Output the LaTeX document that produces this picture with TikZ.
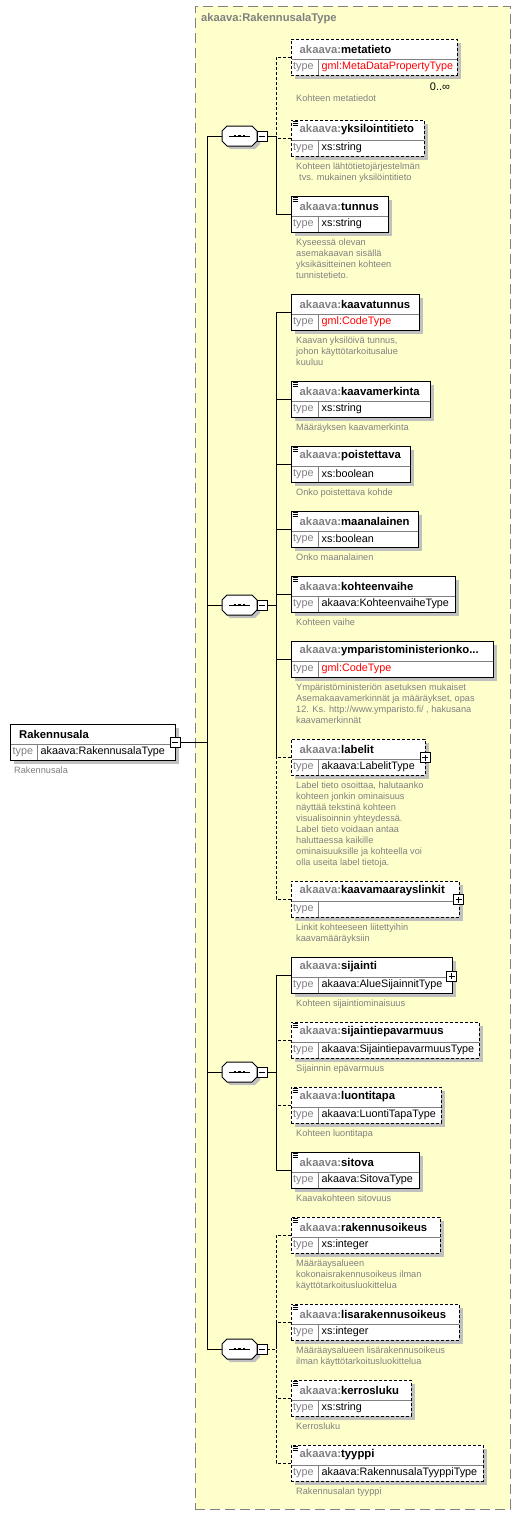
\documentclass[tikz,border=0pt]{standalone}
\usepackage{fontspec}
\setmainfont{Liberation Sans}
\definecolor{bgy}{HTML}{FFFFCC}
\definecolor{shd}{HTML}{C0C0C0}
\definecolor{gr}{HTML}{808080}
\definecolor{gmlred}{HTML}{FF0000}
\tikzset{
  ln/.style={line width=1pt},
  dl/.style={line width=1pt, dash pattern=on 3pt off 2pt},
  reqbox/.style={draw=black, line width=1pt, fill=white},
  optbox/.style={draw=black, line width=1pt, fill=white, dash pattern=on 3pt off 2pt},
  boxbase/.style={rectangle, inner sep=0pt, outer sep=0pt, minimum height=36pt, anchor=north west},
  divline/.style={draw=gr, line width=0.8pt},
  typelbl/.style={anchor=west, inner sep=0pt, text=gr, font=\fontsize{10.8}{13}\selectfont},
  typeval/.style={anchor=west, inner sep=0pt, text=black, font=\fontsize{10.8}{13}\selectfont},
  namelbl/.style={anchor=west, inner sep=0pt, font=\fontsize{11.3}{13}\bfseries\selectfont},
  desc/.style={anchor=north west, inner sep=0pt, text=gr, align=left, font=\fontsize{9.2}{11}\selectfont},
  pmbox/.style={draw=black, line width=0.8pt, fill=white, minimum size=10pt, inner sep=0pt, outer sep=0pt},
  seqn/.style={rectangle, minimum width=35pt, minimum height=20pt, inner sep=0pt, outer sep=0pt},
}
% element box: id, mid y, right x, name, type, box style, icon(1/0), description
\newcommand\elem[8]{%
  \pgfmathsetmacro\et{#2-18}%
  \pgfmathsetmacro\ew{#3-291}%
  \fill[shd] (295,\et+4) rectangle (#3+4,\et+40);
  \node[boxbase,#6,minimum width=\ew pt] (#1) at (291,\et) {};
  \draw[divline] ([xshift=0.5pt,yshift=-20pt]#1.north west) -- ([xshift=-0.5pt,yshift=-20pt]#1.north east);
  \draw[divline] ([xshift=27pt,yshift=-20pt]#1.north west) -- ([xshift=27pt,yshift=0.5pt]#1.south west);
  \node[typelbl] at ([xshift=2pt,yshift=-28pt]#1.north west) {type};
  \node[typeval] at ([xshift=30.5pt,yshift=-28pt]#1.north west) {#5};
  \node[namelbl] at ([xshift=8.5pt,yshift=-10pt]#1.north west) {\textcolor{gr}{akaava:}#4};
  \ifnum#7=1
    \draw[line width=0.6pt] (292.5,\et+1.6) -- ++(5,0) (292.5,\et+3.4) -- ++(5,0) (292.5,\et+5.2) -- ++(5,0);
  \fi
  \node[desc] at ([xshift=5pt,yshift=-42pt]#1.north west) {\strut #8};
}
% sequence compositor: id, y
\newcommand\seqbox[2]{%
  \node[seqn] (#1) at (239.5,#2) {};
  \fill[shd] (230,#2-7) -- (255,#2-7) -- (260,#2-2) -- (260,#2+8) -- (255,#2+13) -- (230,#2+13) -- (225,#2+8) -- (225,#2-2) -- cycle;
  \draw[ln,fill=white] (227,#2-10) -- (252,#2-10) -- (257,#2-5) -- (257,#2+5) -- (252,#2+10) -- (227,#2+10) -- (222,#2+5) -- (222,#2-5) -- cycle;
  \draw[ln] (229,#2) -- (250,#2);
  \fill (233.8,#2-1.3) rectangle ++(2.6,2.6);
  \fill (238.2,#2-1.3) rectangle ++(2.6,2.6);
  \fill (242.6,#2-1.3) rectangle ++(2.6,2.6);
  \node[pmbox] (#1m) at (262,#2) {};
  \draw[line width=0.8pt] (259,#2) -- (265,#2);
}
\newcommand\plusbox[3]{%
  \node[pmbox] (#1) at (#2,#3) {};
  \draw[line width=0.8pt] (#2-3,#3) -- (#2+3,#3) (#2,#3-3) -- (#2,#3+3);
}
\begin{document}
\begin{tikzpicture}[x=1pt,y=-1pt]
\useasboundingbox (0,0) rectangle (521,1515);
\fill[white] (0,0) rectangle (521,1515);
% container
\node[draw=gr, line width=1pt, dash pattern=on 10pt off 5pt, fill=bgy, rectangle,
      minimum width=315pt, minimum height=1503pt, anchor=north west, inner sep=0pt, outer sep=0pt] (cont) at (195,6) {};
\node[anchor=west, inner sep=0pt, text=gr, font=\fontsize{11.2}{13}\bfseries\selectfont] (title) at (201,19) {akaava:RakennusalaType};

% root element
\fill[shd] (14,728) rectangle (179,764);
\node[boxbase,reqbox,minimum width=165pt] (root) at (10,724) {};
\draw[divline] ([xshift=0.5pt,yshift=-20pt]root.north west) -- ([xshift=-0.5pt,yshift=-20pt]root.north east);
\draw[divline] ([xshift=27.5pt,yshift=-20pt]root.north west) -- ([xshift=27.5pt,yshift=0.5pt]root.south west);
\node[namelbl] (rootname) at ([xshift=9pt,yshift=-10pt]root.north west) {Rakennusala};
\node[typelbl] (roottl) at ([xshift=2.5pt,yshift=-28pt]root.north west) {type};
\node[typeval] (roottv) at ([xshift=30.5pt,yshift=-28pt]root.north west) {akaava:RakennusalaType};
\node[desc] (rootdesc) at ([xshift=4pt,yshift=-42pt]root.north west) {\strut Rakennusala};
\node[pmbox] (rootm) at (175,742) {};
\draw[line width=0.8pt] (172,742) -- (178,742);

% sequences
\seqbox{s1}{136}
\seqbox{s2}{605}
\seqbox{s3}{1072}
\seqbox{s4}{1349}

% elements
\elem{e1}{57}{457}{metatieto}{\textcolor{gmlred}{gml:MetaDataPropertyType}}{optbox}{0}{}
\node[inner sep=0pt, font=\fontsize{11}{13}\selectfont] (e1mult) at (440,87) {0..∞};
\node[desc] (e1desc) at (296,94) {\strut Kohteen metatiedot};
\elem{e2}{138}{424}{yksilointitieto}{xs:string}{optbox}{1}{Kohteen lähtötietojärjestelmän\\\hspace*{3pt}tvs. mukainen yksilöintitieto}
\elem{e3}{214}{388}{tunnus}{xs:string}{reqbox}{1}{Kyseessä olevan\\asemakaavan sisällä\\yksikäsitteinen kohteen\\tunnistetieto.}
\elem{e4}{312}{419}{kaavatunnus}{\textcolor{gmlred}{gml:CodeType}}{reqbox}{0}{Kaavan yksilöivä tunnus,\\johon käyttötarkoitusalue\\kuuluu}
\elem{e5}{399}{430}{kaavamerkinta}{xs:string}{reqbox}{1}{Määräyksen kaavamerkinta}
\elem{e6}{464}{410}{poistettava}{xs:boolean}{reqbox}{1}{Onko poistettava kohde}
\elem{e7}{529}{418}{maanalainen}{xs:boolean}{reqbox}{1}{Onko maanalainen}
\elem{e8}{594}{455}{kohteenvaihe}{akaava:KohteenvaiheType}{reqbox}{1}{Kohteen vaihe}
\elem{e9}{659}{493}{ymparistoministerionko...}{\textcolor{gmlred}{gml:CodeType}}{reqbox}{0}{Ympäristöministeriön asetuksen mukaiset\\Asemakaavamerkinnät ja määräykset, opas\\12. Ks. http://www.ymparisto.fi/ , hakusana\\kaavamerkinnät}
\elem{e10}{757}{425}{labelit}{akaava:LabelitType}{optbox}{0}{Label tieto osoittaa, halutaanko\\kohteen jonkin ominaisuus\\näyttää tekstinä kohteen\\visualisoinnin yhteydessä.\\Label tieto voidaan antaa\\haluttaessa kaikille\\ominaisuuksille ja kohteella voi\\olla useita label tietoja.}
\plusbox{e10p}{425}{757.5}
\elem{e11}{899}{459}{kaavamaarayslinkit}{}{optbox}{0}{Linkit kohteeseen liitettyihin\\kaavamääräyksiin}
\plusbox{e11p}{458.5}{899.5}
\elem{e12}{975}{452}{sijainti}{akaava:AlueSijainnitType}{reqbox}{0}{Kohteen sijaintiominaisuus}
\plusbox{e12p}{451.5}{976}
\elem{e13}{1040}{479}{sijaintiepavarmuus}{akaava:SijaintiepavarmuusType}{optbox}{1}{Sijainnin epävarmuus}
\elem{e14}{1105}{441}{luontitapa}{akaava:LuontiTapaType}{optbox}{1}{Kohteen luontitapa}
\elem{e15}{1170}{419}{sitova}{akaava:SitovaType}{reqbox}{1}{Kaavakohteen sitovuus}
\elem{e16}{1235}{440}{rakennusoikeus}{xs:integer}{optbox}{1}{Määräaysalueen\\kokonaisrakennusoikeus ilman\\käyttötarkoitusluokittelua}
\elem{e17}{1322}{459}{lisarakennusoikeus}{xs:integer}{optbox}{1}{Määräaysalueen lisärakennusoikeus\\ilman käyttötarkoitusluokittelua}
\elem{e18}{1398}{411}{kerrosluku}{xs:string}{optbox}{1}{Kerrosluku}
\elem{e19}{1463}{483}{tyyppi}{akaava:RakennusalaTyyppiType}{optbox}{1}{Rakennusalan tyyppi}

% bus coordinates
\coordinate (mb) at (207,742);
\coordinate (b1) at (276,136);
\coordinate (b2) at (276,605);
\coordinate (b3) at (276,1072);
\coordinate (b4) at (276,1349);

% main connectors
\draw[ln] (rootm.east) -- (mb);
\draw[ln] (s1.west) -| (mb);
\draw[ln] (s2.west) -| (mb);
\draw[ln] (s3.west) -| (mb);
\draw[ln] (s4.west) -| (mb);
\draw[ln] (s1m.east) -- (b1);
\draw[ln] (s2m.east) -- (b2);
\draw[ln] (s3m.east) -- (b3);
\draw[dl] (s4m.east) -- (b4);

% sequence 1
\draw[dl] (e1.west) -| (b1);
\draw[dl] (e2.west) -| (b1);
\draw[ln] (e3.west) -| (b1);
% sequence 2
\draw[dl] (e10.west) -| (b2);
\draw[dl] (e11.west) -| (b2);
\draw[ln] (e4.west) -| (b2);
\draw[ln] (e5.west) -| (b2);
\draw[ln] (e6.west) -| (b2);
\draw[ln] (e7.west) -| (b2);
\draw[ln] (e8.west) -| (b2);
\draw[ln] (e9.west) -| (b2);
% sequence 3
\draw[dl] (e13.west) -| (b3);
\draw[dl] (e14.west) -| (b3);
\draw[ln] (e12.west) -| (b3);
\draw[ln] (e15.west) -| (b3);
% sequence 4
\draw[dl] (e16.west) -| (b4);
\draw[dl] (e17.west) -| (b4);
\draw[dl] (e18.west) -| (b4);
\draw[dl] (e19.west) -| (b4);
\end{tikzpicture}
\end{document}
